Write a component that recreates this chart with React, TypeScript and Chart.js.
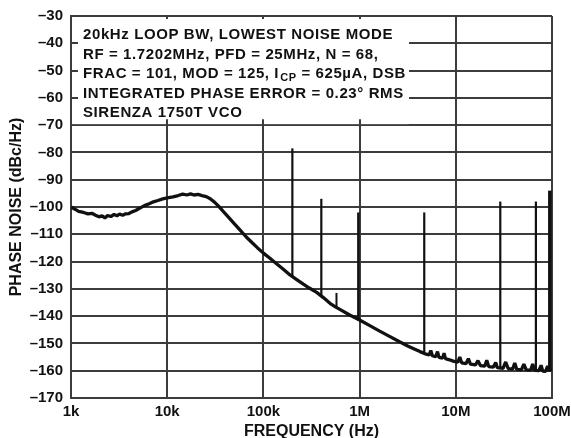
import React, { useEffect, useRef } from "react";
import { Chart, registerables } from "chart.js";

Chart.register(...registerables);

// ---------- data ----------
const xTickValues = [1e3, 1e4, 1e5, 1e6, 1e7, 1e8];
const xTickLabels = ["1k", "10k", "100k", "1M", "10M", "100M"];
const yMin = -170;
const yMax = -30;
const yStep = 10;

const noiseFreq = [
  1000, 1100, 1200, 1350, 1500, 1650, 1800, 1950, 2100, 2250, 2400, 2600, 2800, 3000, 3200, 3450, 3700, 4000,
  4300, 4700, 5200, 5800, 6500, 7200, 8000, 9000, 10000, 11500, 13000, 14500, 16000, 17500, 19000, 21000,
  23000, 25500, 28000, 31000, 34000, 38000, 44000, 50000, 57000, 66000, 76000, 87000, 100000, 117000, 135000,
  160000, 189000, 220000, 260000, 300000, 358000, 420000, 492000, 560000, 650000, 780000, 1000000, 1250000,
  1600000, 2070000, 2600000, 3200000, 3800000, 4250000, 4800000, 5300000, 5500000, 5700000, 6200000, 6450000,
  6700000, 7300000, 7550000, 7800000, 8600000, 9400000, 10500000, 11000000, 11500000, 12800000, 13500000,
  14200000, 16000000, 17000000, 18000000, 20000000, 21000000, 22000000, 24500000, 26000000, 27000000,
  31000000, 33000000, 35000000, 39000000, 41000000, 43000000, 48000000, 51000000, 54000000, 60000000,
  63000000, 66000000, 73000000, 77000000, 80000000, 86000000, 90000000, 93000000, 97000000, 100000000,
];
const noiseDb = [
  -100.0, -100.8, -101.6, -102.0, -102.5, -102.3, -103.0, -103.6, -103.2, -104.0, -103.1, -103.5, -102.7, -103.2,
  -102.6, -103.0, -102.5, -102.4, -101.8, -101.3, -100.4, -99.5, -98.8, -98.1, -97.6, -97.0, -96.7, -96.3, -95.8,
  -95.3, -95.6, -95.2, -95.6, -95.4, -95.8, -96.2, -97.0, -98.2, -99.6, -101.5, -104.0, -106.2, -108.4, -110.9,
  -113.0, -115.0, -116.9, -118.8, -120.6, -122.7, -124.9, -126.5, -128.3, -129.7, -131.3, -133.2, -135.3, -136.6,
  -137.9, -139.5, -141.4, -143.3, -145.4, -147.5, -149.4, -151.0, -152.2, -153.0, -153.8, -154.2, -152.6, -154.5,
  -154.9, -153.0, -155.1, -155.4, -153.6, -155.6, -156.0, -156.5, -156.9, -155.0, -157.1, -157.4, -155.6, -157.6,
  -157.9, -156.3, -158.1, -158.3, -156.2, -158.5, -158.7, -157.0, -158.9, -159.1, -156.8, -159.2, -159.4, -157.2,
  -159.5, -159.7, -157.6, -159.7, -159.8, -157.5, -159.9, -160.0, -158.0, -160.1, -160.2, -158.3, -160.0, -159.6,
  -159.2,
];

const spurFreq = [200e3, 400e3, 575e3, 970e3, 4.7e6, 29e6, 68e6, 95e6];
const spurTop = [-78.5, -97.0, -131.5, -102.0, -102.0, -98.0, -98.0, -94.0];
const spurBase = [-125.5, -132.5, -136.8, -141.6, -154.0, -159.2, -160.0, -160.0];

const noteLines = [
  "20kHz LOOP BW, LOWEST NOISE MODE",
  "RF = 1.7202MHz, PFD = 25MHz, N = 68,",
  "FRAC = 101, MOD = 125, I",
  "INTEGRATED PHASE ERROR = 0.23\u00B0 RMS",
  "SIRENZA 1750T VCO",
];
const noteSubscript = "CP";
const noteLine3Tail = " = 625\u00B5A, DSB";

const xTitle = "FREQUENCY (Hz)";
const yTitle = "PHASE NOISE (dBc/Hz)";

// ---------- styles ----------
const GRID = "#3c3c3c";
const INK = "#111111";
const FONT = "'Liberation Sans', Arial, sans-serif";
const spurWidths = [2.2, 2.2, 2, 2.4, 2.2, 2.2, 2.2, 3.6];

const notePlugin = {
  id: "notePlugin",
  beforeDatasetsDraw(chart: any) {
    const { ctx, chartArea, scales } = chart;
    const xs = scales.x;
    const ys = scales.y;
    const left = chartArea.left;
    const top = chartArea.top;
    const boxBottom = ys.getPixelForValue(-70);
    const boxRight = left + 338;
    ctx.save();
    ctx.fillStyle = "#ffffff";
    ctx.fillRect(left + 1.5, top + 1.5, boxRight - left - 1.5, boxBottom - top - 2.5);
    ctx.strokeStyle = GRID;
    ctx.lineWidth = 2;
    ctx.beginPath();
    [-40, -50, -60].forEach((v) => {
      const py = Math.round(ys.getPixelForValue(v));
      ctx.moveTo(left, py);
      ctx.lineTo(left + 7, py);
    });
    [1e4, 1e5, 1e6].forEach((v) => {
      const px = Math.round(xs.getPixelForValue(v));
      ctx.moveTo(px, top);
      ctx.lineTo(px, top + 3);
      ctx.moveTo(px, boxBottom);
      ctx.lineTo(px, boxBottom - 6);
    });
    ctx.stroke();
    ctx.restore();
  },
  afterDraw(chart: any) {
    const { ctx, chartArea } = chart;
    const x0 = chartArea.left + 12;
    const base0 = chartArea.top + 23;
    const gap = 19.5;
    ctx.save();
    ctx.fillStyle = INK;
    ctx.textBaseline = "alphabetic";
    ctx.textAlign = "left";
    const mainFont = `bold 15px ${FONT}`;
    ctx.font = mainFont;
    try {
      (ctx as any).letterSpacing = "0.6px";
    } catch (e) {}
    noteLines.forEach((t, i) => {
      const yb = base0 + gap * i;
      ctx.font = mainFont;
      ctx.fillText(t, x0, yb);
      if (i === 2) {
        const w = ctx.measureText(t).width;
        ctx.font = `bold 11px ${FONT}`;
        ctx.fillText(noteSubscript, x0 + w + 1, yb + 3);
        const sw = ctx.measureText(noteSubscript).width;
        ctx.font = mainFont;
        ctx.fillText(noteLine3Tail, x0 + w + 1 + sw, yb);
      }
    });
    ctx.restore();
  },
};

export default function App() {
  const ref = useRef<HTMLCanvasElement>(null);

  useEffect(() => {
    if (!ref.current) return;
    const datasets: any[] = [
      {
        data: noiseFreq.map((f, i) => ({ x: f, y: noiseDb[i] })),
        borderColor: INK,
        borderWidth: 3.3,
        pointRadius: 0,
        showLine: true,
        tension: 0,
        borderJoinStyle: "bevel",
      },
    ];
    spurFreq.forEach((f, i) => {
      datasets.push({
        data: [
          { x: f, y: spurBase[i] },
          { x: f, y: spurTop[i] },
        ],
        borderColor: INK,
        borderWidth: spurWidths[i],
        pointRadius: 0,
        showLine: true,
      });
    });

    const chart = new Chart(ref.current, {
      type: "scatter",
      data: { datasets },
      plugins: [notePlugin],
      options: {
        animation: false,
        responsive: false,
        maintainAspectRatio: false,
        devicePixelRatio: 1,
        layout: { padding: { left: 0, right: 19, top: 16, bottom: 0 } },
        plugins: { legend: { display: false }, tooltip: { enabled: false } },
        scales: {
          x: {
            type: "logarithmic",
            min: xTickValues[0],
            max: xTickValues[xTickValues.length - 1],
            afterBuildTicks: (scale: any) => {
              scale.ticks = xTickValues.map((v) => ({ value: v }));
            },
            afterFit: (scale: any) => {
              scale.height = 40;
              scale.paddingLeft = 0;
              scale.paddingRight = 0;
            },
            ticks: {
              autoSkip: false,
              maxRotation: 0,
              padding: 5,
              color: INK,
              font: { family: FONT, size: 15, weight: "bold", lineHeight: 1.2 },
              callback: (v: any) => {
                const idx = xTickValues.indexOf(Number(v));
                return idx >= 0 ? xTickLabels[idx] : "";
              },
            },
            grid: { color: GRID, lineWidth: 2, drawTicks: false },
            border: { display: true, color: GRID, width: 2 },
            title: {
              display: true,
              text: xTitle,
              color: INK,
              padding: { top: 0, bottom: 0 },
              font: { family: FONT, size: 16, weight: "bold", lineHeight: 0.8 },
            },
          },
          y: {
            type: "linear",
            min: yMin,
            max: yMax,
            afterFit: (scale: any) => {
              scale.width = 71;
              scale.paddingTop = 0;
              scale.paddingBottom = 0;
            },
            ticks: {
              stepSize: yStep,
              padding: 8,
              color: INK,
              font: { family: FONT, size: 15, weight: "bold" },
              callback: (v: any) => (Number(v) < 0 ? "\u2013" + Math.abs(Number(v)) : String(v)),
            },
            grid: { color: GRID, lineWidth: 2, drawTicks: false },
            border: { display: true, color: GRID, width: 2 },
            title: {
              display: true,
              text: yTitle,
              color: INK,
              padding: { top: 9, bottom: 0 },
              font: { family: FONT, size: 16, weight: "bold", lineHeight: 1 },
            },
          },
        },
      },
    } as any);
    return () => chart.destroy();
  }, []);

  return (
    <div style={{ position: "fixed", left: 0, top: 0, width: 571, height: 438, background: "#fff" }}>
      <canvas ref={ref} width={571} height={438} style={{ display: "block", width: 571, height: 438 }} />
    </div>
  );
}
